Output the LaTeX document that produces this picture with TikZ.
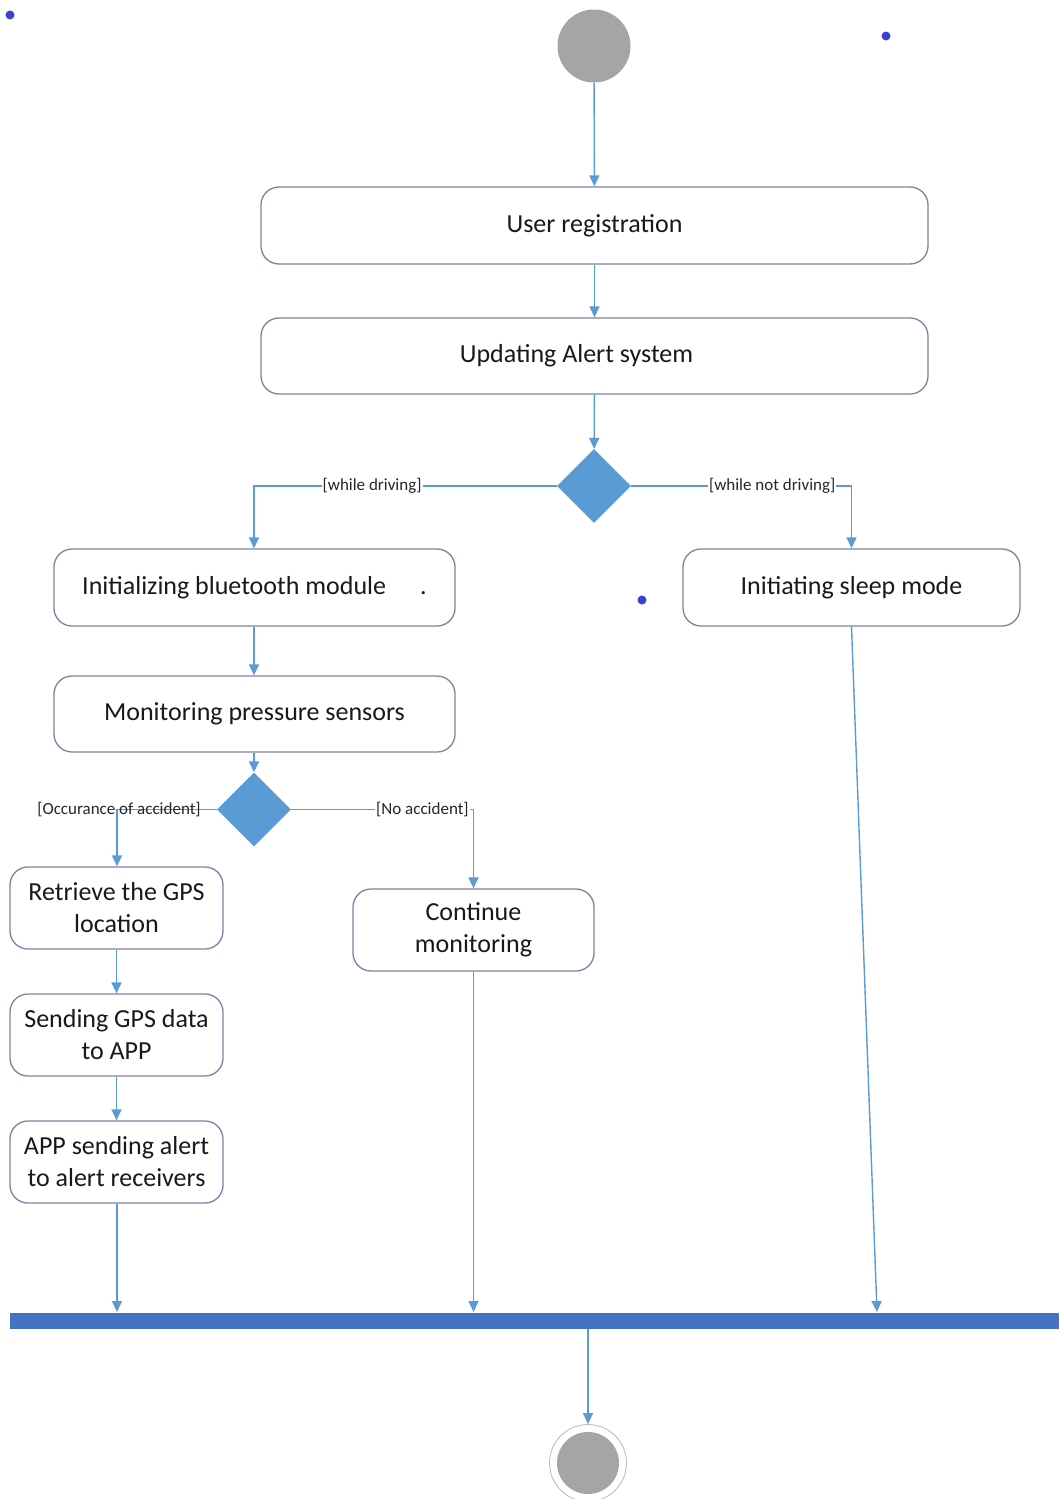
\documentclass[tikz,border=0pt]{standalone}
\usepackage{fontspec}
\setmainfont{Carlito}
\usetikzlibrary{arrows.meta,shapes.geometric}
\definecolor{flowblue}{HTML}{5B9BD5}
\definecolor{barblue}{HTML}{4472C4}
\definecolor{boxline}{RGB}{128,128,165}
\definecolor{nodegray}{HTML}{A5A5A5}
\definecolor{dotblue}{HTML}{3A40D0}
\tikzset{
  activity/.style={draw=boxline, line width=1.3pt, rounded corners=18pt, fill=white,
    font=\fontsize{26}{32}\selectfont, text=black!90, align=center, inner sep=0pt},
  decision/.style={diamond, fill=flowblue, minimum width=74pt, minimum height=74pt, inner sep=0pt},
  flow/.style={draw=flowblue, line width=1.4pt, -{Triangle[length=11pt,width=10pt]}},
  guard/.style={font=\fontsize{17}{20}\selectfont, text=black!85, inner sep=1pt},
  guardfill/.style={guard, fill=white},
}
\begin{document}
\begin{tikzpicture}[x=1pt,y=-1pt]
\useasboundingbox (0,0) rectangle (1059,1499);

% initial node
\node[circle, fill=nodegray, minimum size=73pt, inner sep=0pt] (start) at (594,46) {};

% activities
\node[activity, minimum width=667pt, minimum height=77pt] (reg) at (594.5,225.5) {User registration};
\node[activity, minimum width=667pt, minimum height=76pt] (upd) at (594.5,356) {Updating Alert system\hspace{36pt}};
\node[decision] (d1) at (594,486) {};
\node[activity, minimum width=401pt, minimum height=77pt] (bt) at (254.5,587.5) {Initializing bluetooth module\hspace{34pt}.};
\node[activity, minimum width=337pt, minimum height=77pt] (sleep) at (851.5,587.5) {Initiating sleep mode};
\node[activity, minimum width=401pt, minimum height=76pt] (mon) at (254.5,714) {Monitoring pressure sensors};
\node[decision] (d2) at (254,809.5) {};
\node[activity, minimum width=213pt, minimum height=82pt] (gps) at (116.5,908) {Retrieve the GPS\\location};
\node[activity, minimum width=241pt, minimum height=82pt] (cont) at (473.5,930) {Continue\\monitoring};
\node[activity, minimum width=213pt, minimum height=82pt] (send) at (116.5,1035) {Sending GPS data\\to APP};
\node[activity, minimum width=213pt, minimum height=82pt] (app) at (116.5,1162) {APP sending alert\\to alert receivers};

% join bar
\node[fill=barblue, minimum width=1049pt, minimum height=16pt, inner sep=0pt] (bar) at (534.5,1321) {};

% final node
\node[circle, draw=nodegray!80, line width=0.8pt, fill=white, minimum size=77pt, inner sep=0pt] (end) at (588,1463) {};
\node[circle, fill=nodegray, minimum size=62pt, inner sep=0pt] (endcore) at (end) {};

% flows
\draw[flow] (start) -- (reg);
\draw[flow] (reg) -- (upd);
\draw[flow] (upd) -- (d1);
\draw[flow] (d1.west) -| node[guardfill, pos=0.305] {[while driving]} (bt.north -| 254,0);
\draw[flow] (d1.east) -| node[guardfill, pos=0.32] {[while not driving]} (sleep.north);
\draw[flow] (bt.south -| 254,0) -- (mon.north -| 254,0);
\draw[flow] (mon.south -| 254,0) -- (d2.north);
\draw[flow] (d2.west) -| node[guard, pos=0.49] {[Occurance of accident]} (gps.north -| 117,0);
\draw[flow] (d2.east) -| node[guardfill, pos=0.36] {[No accident]} (cont.north);
\draw[flow] (gps) -- (send);
\draw[flow] (send) -- (app);
\coordinate (j1) at (117,1312);
\coordinate (j2) at (473.5,1312);
\coordinate (j3) at (877,1312);
\draw[flow] (app.south -| j1) -- (j1);
\draw[flow] (cont.south) -- (j2);
\draw[flow] (sleep.south) -- (j3);
\draw[flow] (end |- bar.south) -- (end.north);

% stray marks
\fill[dotblue] (10,15) circle (4.5);
\fill[dotblue] (886,36) circle (4.5);
\fill[dotblue] (642,600) circle (4.5);
\end{tikzpicture}
\end{document}
